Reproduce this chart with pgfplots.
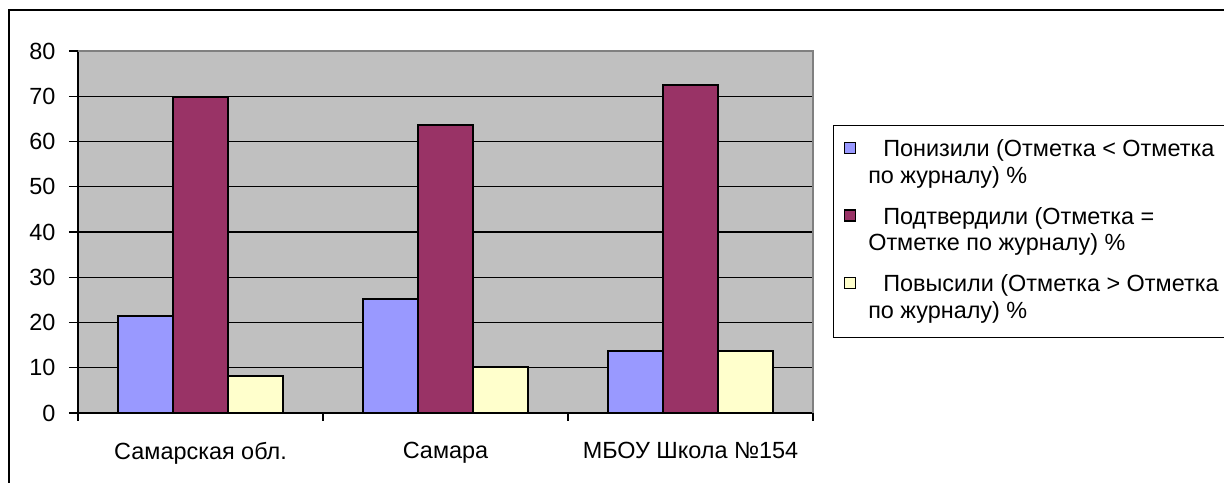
\documentclass[border=0pt]{standalone}
\usepackage{fontspec}
\setmainfont{Liberation Sans}
\usepackage{pgfplots}
\pgfplotsset{compat=1.18}
\definecolor{cblue}{HTML}{9999FF}
\definecolor{cmaroon}{HTML}{993366}
\definecolor{cyellow}{HTML}{FFFFCC}
\definecolor{cplot}{HTML}{C0C0C0}
\definecolor{cframe}{HTML}{808080}
\newcommand\cf{\fontsize{23.5}{27}\selectfont}
\newcommand\lent[2]{\vtop{\hbox{\rule{0pt}{18bp}\hspace{15bp}#1}\hbox{#2\rule[-6bp]{0pt}{0pt}}}}
\begin{document}
\begin{tikzpicture}
\useasboundingbox (0,0) rectangle (1224bp,483bp);
\clip (0,0) rectangle (1224bp,483bp);
\draw[line width=1.5bp] (9bp,-5bp) -- (9bp,473bp) -- (1240bp,473bp);
\begin{axis}[
  at={(78bp,70bp)}, anchor=south west,
  scale only axis, width=735bp, height=362bp,
  xmin=-0.5, xmax=2.5, ymin=0, ymax=80,
  ybar=0pt, bar width=54.7bp,
  axis background/.style={fill=cplot},
  axis x line*=bottom, axis y line*=left,
  axis line style={line width=1.6bp, black, -},
  xtick={0,1,2}, xticklabels={Самарская обл., Самара, МБОУ Школа №154},
  minor xtick={-0.5,0.5,1.5,2.5},
  major x tick style={draw=none},
  minor tick length=8bp,
  ytick={0,10,...,80},
  major tick length=9bp,
  tick align=outside,
  tick style={black, line width=1.4bp},
  ymajorgrids, grid style={black, line width=1.4bp},
  yticklabel style={font=\cf, xshift=-10bp},
  xticklabel style={font=\cf, anchor=north, yshift=-17bp},
  /pgf/number format/assume math mode=true,
  legend image code/.code={\draw[#1, draw=black, line width=1.6bp] (0bp,3bp) rectangle (11bp,14bp);},
  legend style={at={(1.0272,0.7956)}, anchor=north west, draw=black, line width=1.4bp, fill=white, font=\cf, inner xsep=10bp, inner ysep=13bp, row sep=16.5bp, column sep=12bp, cells={anchor=base west}, nodes={inner sep=0pt, text depth=}},
  after end axis/.code={\draw[cframe, line width=1.4bp] (rel axis cs:0,1) -- (rel axis cs:1,1) -- (rel axis cs:1,0);},
]
\addplot[fill=cblue, draw=black, line width=2bp] coordinates {(0,21.5) (1,25.3) (2,13.6)};
\addlegendentry{\lent{Понизили (Отметка < Отметка}{по журналу) \%}}
\addplot[fill=cmaroon, draw=black, line width=2bp] coordinates {(0,69.9) (1,63.6) (2,72.5)};
\addlegendentry{\lent{Подтвердили (Отметка =}{Отметке по журналу) \%}}
\addplot[fill=cyellow, draw=black, line width=2bp] coordinates {(0,8.2) (1,10.2) (2,13.6)};
\addlegendentry{\lent{Повысили (Отметка > Отметка}{по журналу) \%}}
\end{axis}
\end{tikzpicture}
\end{document}
